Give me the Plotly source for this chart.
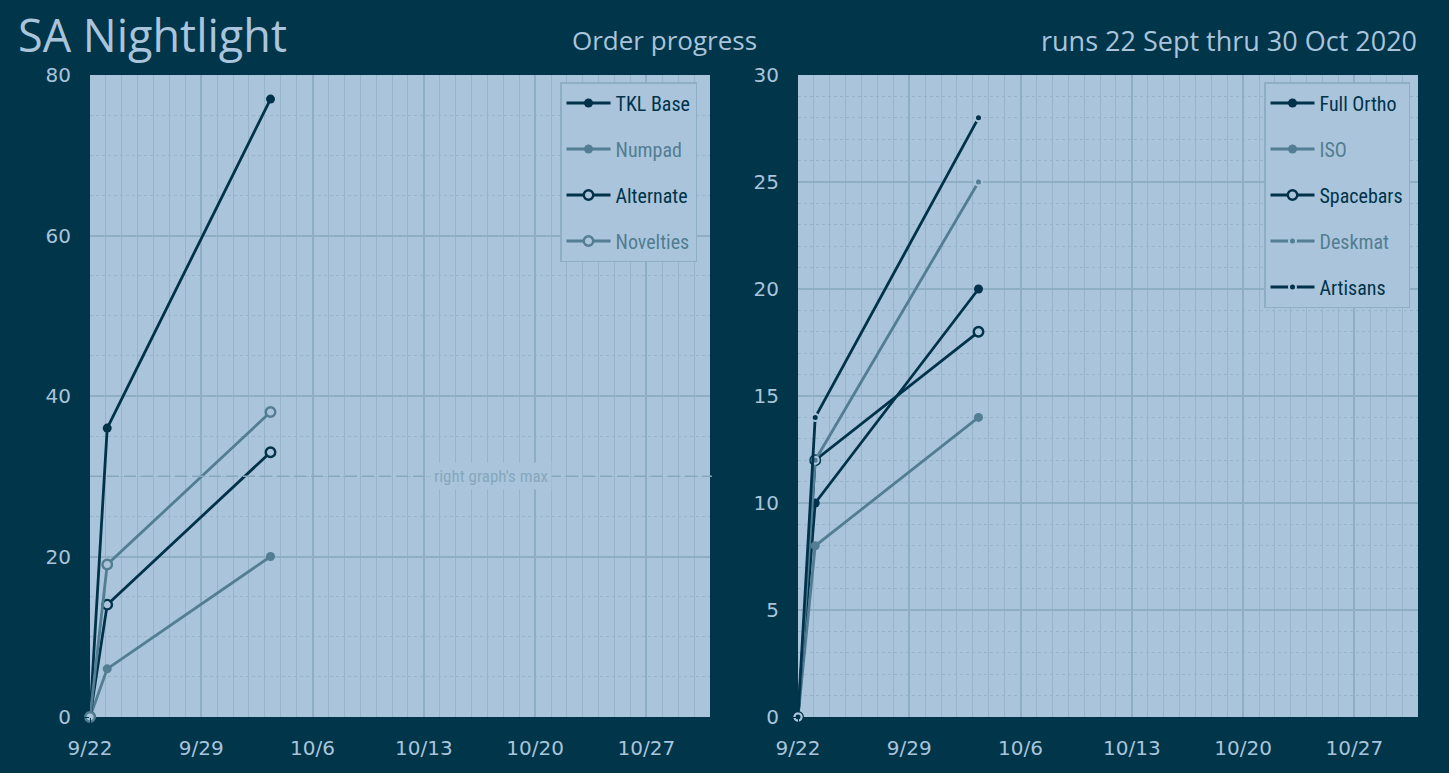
import plotly.graph_objects as go

# ---- data ----
dates = ["2020-09-22 00:00", "2020-09-23 02:00", "2020-10-03 08:30"]
left_names = ["TKL Base", "Numpad", "Alternate", "Novelties"]
tkl_base = [0, 36, 77]
numpad = [0, 6, 20]
alternate = [0, 14, 33]
novelties = [0, 19, 38]
right_names = ["Full Ortho", "ISO", "Spacebars", "Deskmat", "Artisans"]
full_ortho = [0, 10, 20]
iso = [0, 8, 14]
spacebars = [0, 12, 18]
deskmat = [0, 12, 25]
artisans = [0, 14, 28]
right_graph_max = 30
x_range = ["2020-09-22", "2020-10-31"]
left_y_range = [0, 80]
right_y_range = [0, 30]

# ---- styles ----
PAPER = "#01354A"
PLOT = "#AAC5DB"
TXT = "#A9C4DB"
DARK = "#00334A"
LIGHT = "#527D92"
GRID = "#8EAEC3"
GRID_MINOR = "#97B4C9"
COND = "Roboto Condensed, Liberation Sans Narrow, Roboto, sans-serif"


def marker_style(kind, color):
    if kind == "filled":
        return dict(symbol="circle", size=9, color=color, line=dict(width=0))
    if kind == "open":
        return dict(symbol="circle", size=9.5, color=PLOT, line=dict(width=2.4, color=color))
    return dict(symbol="circle", size=7, color=color, line=dict(width=2, color=PLOT))


fig = go.Figure()

left_series = [
    (left_names[0], tkl_base, DARK, "filled"),
    (left_names[1], numpad, LIGHT, "filled"),
    (left_names[2], alternate, DARK, "open"),
    (left_names[3], novelties, LIGHT, "open"),
]
right_series = [
    (right_names[0], full_ortho, DARK, "filled"),
    (right_names[1], iso, LIGHT, "filled"),
    (right_names[2], spacebars, DARK, "open"),
    (right_names[3], deskmat, LIGHT, "small"),
    (right_names[4], artisans, DARK, "small"),
]

for i, (name, vals, col, kind) in enumerate(left_series):
    fig.add_trace(go.Scatter(
        x=dates, y=vals, mode="lines+markers",
        name=f"<span style='color:{col}'>{name}</span>",
        line=dict(color=col, width=2.8), marker=marker_style(kind, col),
        xaxis="x", yaxis="y", legend="legend", legendgroup=f"l{i}",
        cliponaxis=False,
    ))

for i, (name, vals, col, kind) in enumerate(right_series):
    fig.add_trace(go.Scatter(
        x=dates, y=vals, mode="lines+markers",
        name=f"<span style='color:{col}'>{name}</span>",
        line=dict(color=col, width=2.8), marker=marker_style(kind, col),
        xaxis="x2", yaxis="y2", legend="legend2", legendgroup=f"r{i}",
        cliponaxis=False,
    ))

xcommon = dict(
    type="date", range=x_range, tickformat="%-m/%-d",
    tick0="2020-09-22", dtick=7 * 86400000,
    showgrid=True, gridcolor=GRID, gridwidth=2,
    ticks="outside", ticklen=13, tickcolor=PAPER,
    tickfont=dict(family="DejaVu Sans", size=20, color=TXT),
    minor=dict(dtick=86400000, tick0="2020-09-22", showgrid=True,
               gridcolor=GRID_MINOR, gridwidth=1, ticks=""),
    zeroline=False, showline=False, automargin=False,
)
ycommon = dict(
    showgrid=True, gridcolor=GRID, gridwidth=1.5,
    ticks="outside", ticklen=14, tickcolor=PAPER,
    tickfont=dict(family="DejaVu Sans", size=20, color=TXT),
    zeroline=False, showline=False, automargin=False,
)

legend_common = dict(
    xanchor="right", yanchor="top",
    bgcolor=PLOT, bordercolor=GRID, borderwidth=1.5,
    font=dict(family=COND, size=20, color=DARK),
    traceorder="grouped", tracegroupgap=17, itemclick=False, itemwidth=44,
)

fig.update_layout(
    width=1449, height=773,
    margin=dict(l=0, r=0, t=0, b=0, pad=0, autoexpand=False),
    paper_bgcolor=PAPER, plot_bgcolor=PLOT,
    showlegend=True,
    xaxis=dict(domain=[90 / 1449, 710 / 1449], anchor="y", **xcommon),
    yaxis=dict(domain=[1 - 717 / 773, 1 - 75 / 773], anchor="x", range=left_y_range,
               dtick=20, minor=dict(dtick=5, showgrid=True, gridcolor=GRID_MINOR,
                                    griddash="dot", gridwidth=1, ticks=""),
               **ycommon),
    xaxis2=dict(domain=[798 / 1449, 1418 / 1449], anchor="y2", **xcommon),
    yaxis2=dict(domain=[1 - 717 / 773, 1 - 75 / 773], anchor="x2", range=right_y_range,
                dtick=5, minor=dict(dtick=1, showgrid=True, gridcolor=GRID_MINOR,
                                    griddash="dot", gridwidth=1, ticks=""),
                **ycommon),
    legend=dict(x=697 / 1449, y=1 - 82 / 773, **legend_common),
    legend2=dict(x=1410 / 1449, y=1 - 82 / 773, **legend_common),
)

fig.add_shape(type="line", xref="x domain", yref="y", x0=0, x1=1.003,
              y0=right_graph_max, y1=right_graph_max,
              line=dict(color="#86A7BC", width=1.5, dash="12px,5px"), layer="above")
fig.add_annotation(xref="x domain", yref="y", x=0.646, y=right_graph_max,
                   text="right graph's max", showarrow=False,
                   font=dict(family=COND, size=17, color="#86A7BC"),
                   bgcolor=PLOT, borderpad=3)

fig.add_annotation(xref="paper", yref="paper", x=16 / 1449, y=1 - 34 / 773,
                   xanchor="left", yanchor="middle", text="SA Nightlight",
                   showarrow=False, font=dict(family="Open Sans", size=45, color=TXT))
fig.add_annotation(xref="paper", yref="paper", x=570 / 1449, y=1 - 40 / 773,
                   xanchor="left", yanchor="middle", text="Order progress",
                   showarrow=False, font=dict(family="Open Sans", size=26, color=TXT))
fig.add_annotation(xref="paper", yref="paper", x=1419 / 1449, y=1 - 40 / 773,
                   xanchor="right", yanchor="middle", text="runs 22 Sept thru 30 Oct 2020",
                   showarrow=False, font=dict(family="Open Sans", size=27, color=TXT))

fig.write_html(
    "out.html",
    config={"displayModeBar": False},
    post_script="document.body.style.margin='0';document.body.style.overflow='hidden';"
                "document.body.style.background='" + PAPER + "';",
)
